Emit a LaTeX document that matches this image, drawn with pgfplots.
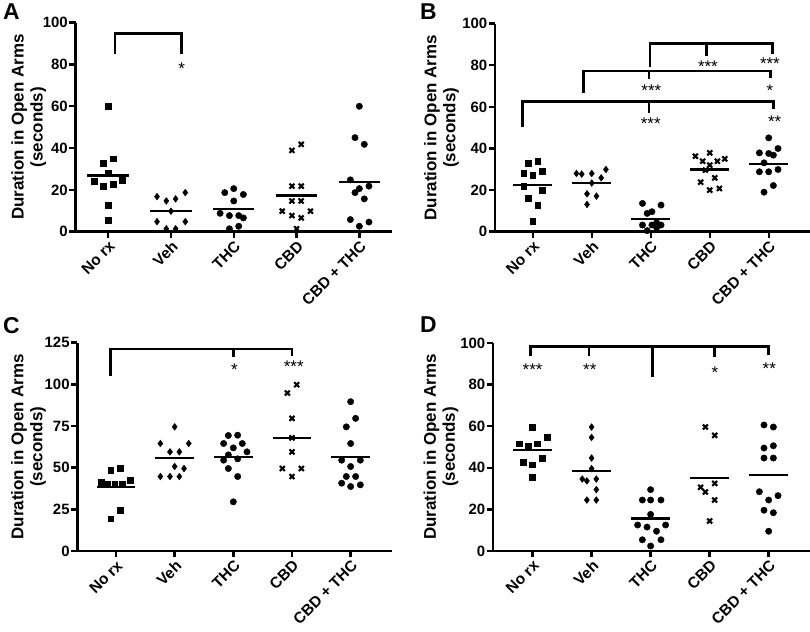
\documentclass[border=0pt]{standalone}
\usepackage{fontspec}
\setmainfont{Liberation Sans}
\usepackage{pgfplots}
\pgfplotsset{compat=1.18}
\newcommand\tickfont{\bfseries\fontsize{15}{15}\selectfont}
\newcommand\xfont{\bfseries\fontsize{15.5}{15.5}\selectfont}
\newcommand\labfont{\bfseries\fontsize{17}{19}\selectfont}
\newcommand\starfont{\fontsize{17}{17}\selectfont}
\newcommand\panelfont{\bfseries\fontsize{23}{23}\selectfont}
\pgfplotsset{
  panel/.style={
    scale only axis, clip=false,
    axis x line=bottom, axis y line=left,
    axis line style={-, line width=2.6bp},
    every inner x axis line/.append style={-},
    every inner y axis line/.append style={-},
    every tick/.style={line width=2.4bp, black},
    major tick length=6bp,
    tick align=outside,
    xtick={0,1,2,3,4},
    xticklabels={No rx, Veh, THC, CBD, CBD + THC},
    xticklabel style={rotate=45, anchor=north east, font=\xfont, inner sep=1.5bp},
    yticklabel style={font=\tickfont, inner sep=1.5bp},
    /pgf/number format/assume math mode=true,
    ylabel={Duration in Open Arms\\(seconds)},
    ylabel style={font=\labfont, align=center, anchor=center},
    ymin=0,
  },
  sq/.style={only marks, mark=square*, mark size=2.9bp, black},
  dia/.style={only marks, mark=diamond*, mark size=3.4bp, black},
  circ/.style={only marks, mark=*, mark size=3.2bp, black},
  crs/.style={only marks, mark=x, mark size=3.5bp, black, mark options={line width=2.1bp}},
  mn/.style={no marks, black, line width=2.2bp, forget plot},
  br/.style={no marks, black, line width=2.7bp, forget plot},
}
\begin{document}
\begin{tikzpicture}
\useasboundingbox (0,0) rectangle (810bp,632bp);
% panel letters
\node[anchor=north west, inner sep=0, font=\panelfont] at (3bp,628bp) {A};
\node[anchor=north west, inner sep=0, font=\panelfont] at (420bp,628bp) {B};
\node[anchor=north west, inner sep=0, font=\panelfont] at (3bp,315bp) {C};
\node[anchor=north west, inner sep=0, font=\panelfont] at (420bp,315bp) {D};

% ---------------- A ----------------
\begin{axis}[panel, at={(75.5bp,400.3bp)}, anchor=south west,
  width=316.5bp, height=209bp, xmin=-0.52, xmax=4.52, ymax=100,
  ytick={0,20,40,60,80,100},
  ylabel style={at={(axis description cs:-0.148,0.5)}}]
\addplot[sq] coordinates {(0,60) (0.074,34.9) (-0.074,32.8) (0,28) (-0.228,24) (-0.074,21.9) (0.074,22.9) (0.228,24.8) (0,12.8) (0,5.6)};
\addplot[dia] coordinates {(0.778,16.8) (0.926,14.7) (1.074,15.7) (1.228,18.7) (1,9.8) (0.778,4.8) (1.228,4.8) (0.926,1.4) (1.074,1.4)};
\addplot[circ] coordinates {(1.857,18.7) (2,20.6) (2.153,17.8) (2,14.7) (1.783,8.8) (1.931,7.7) (2.079,7.7) (2.153,6.6) (1.931,1.4) (2.079,2.6)};
\addplot[crs] coordinates {(2.926,38.9) (3.074,41.8) (2.926,21.8) (3.074,21.8) (2.926,14.7) (3.074,14.7) (2.772,9.8) (2.926,7.7) (3.074,6.6) (3.222,9.8) (3,1.4)};
\addplot[circ] coordinates {(4,60) (3.931,45) (4.079,41.8) (3.857,24.8) (4,20.6) (4.153,21.8) (3.931,18.7) (4.079,15.7) (3.857,5.8) (4,2.6) (4.153,4.6)};
\addplot[mn] coordinates {(-0.33,26.9) (0.33,26.9)};
\addplot[mn] coordinates {(0.67,9.8) (1.33,9.8)};
\addplot[mn] coordinates {(1.67,10.7) (2.33,10.7)};
\addplot[mn] coordinates {(2.67,17.3) (3.33,17.3)};
\addplot[mn] coordinates {(3.67,23.7) (4.33,23.7)};
\addplot[br] coordinates {(0.11,85) (0.11,94.9) (1.17,94.9) (1.17,85)};
\node[anchor=base, font=\starfont, inner sep=0] at (axis cs:1.17,75.0) {*};
\end{axis}

% ---------------- B ----------------
\begin{axis}[panel, at={(495bp,400.3bp)}, anchor=south west,
  width=315bp, height=208bp, xmin=-0.64, xmax=4.70, ymax=100,
  ytick={0,20,40,60,80,100},
  ylabel style={at={(axis description cs:-0.17,0.5)}}]
\addplot[sq] coordinates {(-0.073,33.1) (0.085,33.9) (-0.153,28.2) (0,27) (0.164,29) (-0.153,21.9) (0.164,19.8) (-0.073,16) (0.085,12.8) (0,5.1)};
\addplot[dia] coordinates {(0.74,28) (0.83,27.7) (1,28) (1.16,25.9) (1.24,29.9) (1,23.4) (0.92,18.2) (1.08,17.1) (0.92,13.1)};
\addplot[circ] coordinates {(1.86,13.6) (2.175,12.8) (1.94,8.8) (2.02,9.6) (1.86,3.2) (2.02,3.2) (2.175,3.2) (2.1,4.3) (1.94,0.5) (2.1,2)};
\addplot[crs] coordinates {(2.757,36.3) (3,37.9) (2.88,33.9) (3.13,33.9) (3.254,35) (3,32) (2.927,29.6) (3.085,25.9) (2.847,23.8) (3,20) (3.164,20.8)};
\addplot[circ] coordinates {(4,45.1) (3.842,37.9) (4,37.6) (4.158,40) (4.079,36.8) (3.921,33.1) (3.842,28.8) (4,28.8) (4.158,29.9) (4.079,22.2) (3.921,19)};
\addplot[mn] coordinates {(-0.33,22.4) (0.33,22.4)};
\addplot[mn] coordinates {(0.67,23.5) (1.33,23.5)};
\addplot[mn] coordinates {(1.67,6.1) (2.33,6.1)};
\addplot[mn] coordinates {(2.67,29.9) (3.33,29.9)};
\addplot[mn] coordinates {(3.67,32.5) (4.33,32.5)};
\addplot[br] coordinates {(-0.175,50.2) (-0.175,62.5) (4.08,62.5) (4.08,58.8)};
\addplot[br] coordinates {(1.97,62.5) (1.97,57.2)};
\addplot[br] coordinates {(0.865,66.8) (0.865,77.2) (4.03,77.2) (4.03,73.7)};
\addplot[br] coordinates {(1.97,77.2) (1.97,73.4)};
\addplot[br] coordinates {(1.99,79.3) (1.99,90.4) (4.06,90.4) (4.06,85.3)};
\addplot[br] coordinates {(2.95,90.4) (2.95,84.5)};
\node[anchor=base, font=\starfont, inner sep=0] at (axis cs:2.0,49.0) {***};
\node[anchor=base, font=\starfont, inner sep=0] at (axis cs:4.1,50.3) {**};
\node[anchor=base, font=\starfont, inner sep=0] at (axis cs:2.01,65.0) {***};
\node[anchor=base, font=\starfont, inner sep=0] at (axis cs:4.02,65.0) {*};
\node[anchor=base, font=\starfont, inner sep=0] at (axis cs:2.97,76.7) {***};
\node[anchor=base, font=\starfont, inner sep=0] at (axis cs:4.02,78.2) {***};
\end{axis}

% ---------------- C ----------------
\begin{axis}[panel, at={(77.3bp,81bp)}, anchor=south west,
  width=314.4bp, height=208.3bp, xmin=-0.66, xmax=4.70, ymax=125,
  ytick={0,25,50,75,100,125},
  ylabel style={at={(axis description cs:-0.155,0.5)}}]
\addplot[sq] coordinates {(-0.09,48.5) (0.074,49.5) (-0.256,41.3) (-0.142,40) (-0.023,40) (0.1,40) (0.24,42.3) (0.074,24.4) (-0.09,19.4)};
\addplot[dia] coordinates {(1,74.5) (0.756,64.5) (0.92,59.5) (1.08,59.5) (1.24,64.5) (1,50.7) (1.16,49.5) (0.756,44.7) (0.92,44.7) (1.08,44.7)};
\addplot[circ] coordinates {(1.915,69.3) (2.074,69.5) (1.835,64.5) (2,61.9) (2.153,64.5) (1.915,57.7) (2.233,59.5) (1.835,54.5) (2.074,55.3) (1.915,49.5) (2.074,44.7) (2,29.5)};
\addplot[crs] coordinates {(3.08,99.8) (2.92,94.8) (3,79.6) (3,67.9) (3,59.5) (2.835,49.5) (3.16,49.5) (3,44.7)};
\addplot[circ] coordinates {(4,89.6) (4.085,79.6) (3.926,74.5) (4,64.5) (3.847,54.5) (4.165,54.5) (4,50.7) (3.926,44.7) (4.085,44.7) (3.847,40.7) (4,38.7) (4.165,39.7)};
\addplot[mn] coordinates {(-0.33,38.3) (0.33,38.3)};
\addplot[mn] coordinates {(0.67,55.7) (1.33,55.7)};
\addplot[mn] coordinates {(1.67,56.5) (2.33,56.5)};
\addplot[mn] coordinates {(2.67,67.9) (3.33,67.9)};
\addplot[mn] coordinates {(3.67,56.5) (4.33,56.5)};
\addplot[br] coordinates {(-0.09,105.2) (-0.09,121.2) (3.0,121.2) (3.0,116.8)};
\addplot[br] coordinates {(2.0,121.2) (2.0,116.2)};
\node[anchor=base, font=\starfont, inner sep=0] at (axis cs:2.02,105.5) {*};
\node[anchor=base, font=\starfont, inner sep=0] at (axis cs:3.03,106.9) {***};
\end{axis}

% ---------------- D ----------------
\begin{axis}[panel, at={(493bp,81bp)}, anchor=south west,
  width=317bp, height=208bp, xmin=-0.67, xmax=4.70, ymax=100,
  ytick={0,20,40,60,80,100},
  ylabel style={at={(axis description cs:-0.164,0.5)}}]
\addplot[sq] coordinates {(0,59.6) (-0.23,51.6) (-0.073,50.6) (0.085,51.6) (0.243,54.6) (-0.153,42.5) (0,41.5) (0.164,44.7) (0,35.6)};
\addplot[dia] coordinates {(1,59.6) (1,54.6) (1,44.7) (1,39.6) (0.842,34.6) (0.92,33.7) (1.08,34.6) (1.08,29.5) (0.92,24.5) (1.08,24.5)};
\addplot[circ] coordinates {(2,29.5) (1.86,24.5) (2,24.5) (2.175,24.5) (2,17.6) (1.78,12.5) (1.94,11.5) (2.1,9.5) (2.254,12.5) (1.86,5.4) (2.175,5.4) (2,2.4)};
\addplot[crs] coordinates {(2.927,59.6) (3.085,55.6) (2.847,30.6) (2.927,28.4) (3.085,32.5) (3.085,24.5) (3,14.4)};
\addplot[circ] coordinates {(3.921,60.6) (4.079,59.6) (3.921,49.5) (4.079,50.6) (3.921,44.7) (4.079,44.7) (3.842,28.5) (4.158,26.6) (4,24.5) (3.921,19.6) (4.079,18.4) (4,9.5)};
\addplot[mn] coordinates {(-0.33,48.6) (0.33,48.6)};
\addplot[mn] coordinates {(0.67,38.3) (1.33,38.3)};
\addplot[mn] coordinates {(1.67,15.6) (2.33,15.6)};
\addplot[mn] coordinates {(2.67,35.2) (3.33,35.2)};
\addplot[mn] coordinates {(3.67,36.7) (4.33,36.7)};
\addplot[br] coordinates {(-0.034,93.75) (-0.034,98.4) (4.0,98.4) (4.0,94.2)};
\addplot[br] coordinates {(0.955,98.4) (0.955,93.75)};
\addplot[br] coordinates {(2.03,98.4) (2.03,83.8)};
\addplot[br] coordinates {(3.08,98.4) (3.08,93.1)};
\node[anchor=base, font=\starfont, inner sep=0] at (axis cs:0,84.2) {***};
\node[anchor=base, font=\starfont, inner sep=0] at (axis cs:0.97,84.2) {**};
\node[anchor=base, font=\starfont, inner sep=0] at (axis cs:3.09,83.1) {*};
\node[anchor=base, font=\starfont, inner sep=0] at (axis cs:4.01,84.7) {**};
\end{axis}
\end{tikzpicture}
\end{document}
